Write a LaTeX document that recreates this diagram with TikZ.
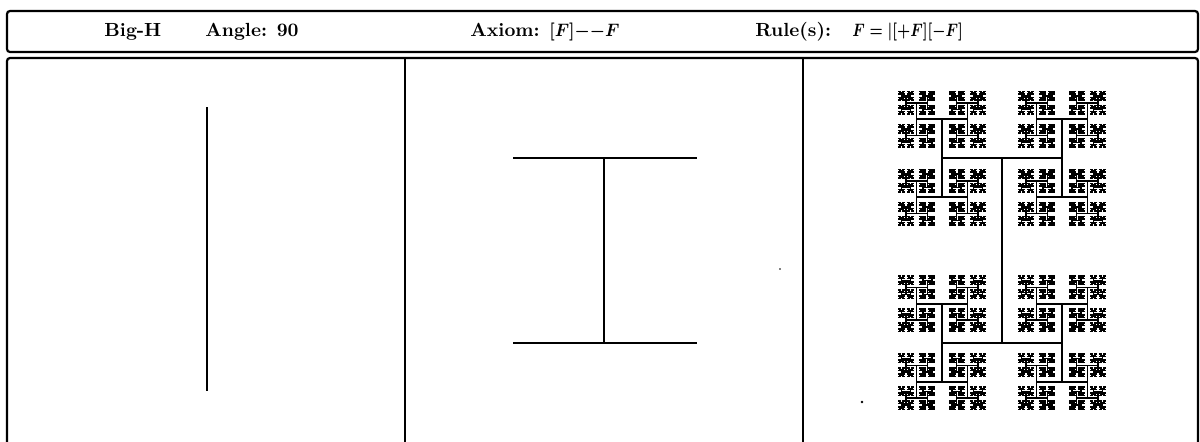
\documentclass[tikz,border=0pt]{standalone}
\usepackage{amsmath,amssymb,graphicx}
\tikzset{
  frame/.style={line width=1.1pt, rounded corners=1.5pt},
  divider/.style={line width=1.1pt},
  stroke/.style={line width=0.7pt},
  frac/.style={line width=0.8pt, line cap=rect},
  hdr/.style={anchor=base west, inner sep=0pt, font=\fontsize{9.5}{11}\selectfont\bfseries}
}
\def\hratio{0.65}
\newcommand\htreedraw[5]{%
  \ifnum#5>0\relax
  \begingroup
    \ifnum#4=0\relax
      \pgfmathsetmacro\pa{#2-#3}\pgfmathsetmacro\pb{#2+#3}%
      \draw[frac] (#1,\pa) -- (#1,\pb);
      \pgfmathsetmacro\nl{#3*\hratio}\pgfmathtruncatemacro\nd{#5-1}%
      \edef\next{\noexpand\htreedraw{#1}{\pa}{\nl}{1}{\nd}\noexpand\htreedraw{#1}{\pb}{\nl}{1}{\nd}}%
    \else
      \pgfmathsetmacro\pa{#1-#3}\pgfmathsetmacro\pb{#1+#3}%
      \draw[frac] (\pa,#2) -- (\pb,#2);
      \pgfmathsetmacro\nl{#3*\hratio}\pgfmathtruncatemacro\nd{#5-1}%
      \edef\next{\noexpand\htreedraw{\pa}{#2}{\nl}{0}{\nd}\noexpand\htreedraw{\pb}{#2}{\nl}{0}{\nd}}%
    \fi
    \next
  \endgroup
  \fi}
\begin{document}
\begin{tikzpicture}[x=0.5pt,y=-0.5pt]
\useasboundingbox (0,0) rectangle (1200,441);
% header
\draw[frame] (7,11) rectangle (1198,52);
\node[hdr] (name) at (104,36) {Big-H};
\node[hdr] (angle) at (205,36) {Angle: 90};
\node[hdr] (axiom) at (470,36) {Axiom: \scalebox{0.92}[1]{\boldmath$[F]{-}{-}F$}};
\node[hdr] (rule) at (755,36) {Rule(s):};
\node[hdr] (rulebody) at (852,36) {\scalebox{0.8}[1]{\boldmath$F=|[+F][-F]$}};
% lower box
\draw[frame] (7,450) -- (7,58) -- (1198,58) -- (1198,450);
\draw[divider] (405,58) -- (405,450);
\draw[divider] (803,58) -- (803,450);
% panel 1
\draw[stroke] (207,107) -- (207,391);
% panel 2
\draw[stroke] (604,158) -- (604,343);
\draw[stroke] (513,158) -- (697,158);
\draw[stroke] (513,343) -- (697,343);
\fill (780,269) circle (0.9);
% panel 3
\htreedraw{1002}{250.5}{92.3}{0}{12}
\fill (862,402) circle (1.3);
\end{tikzpicture}
\end{document}
